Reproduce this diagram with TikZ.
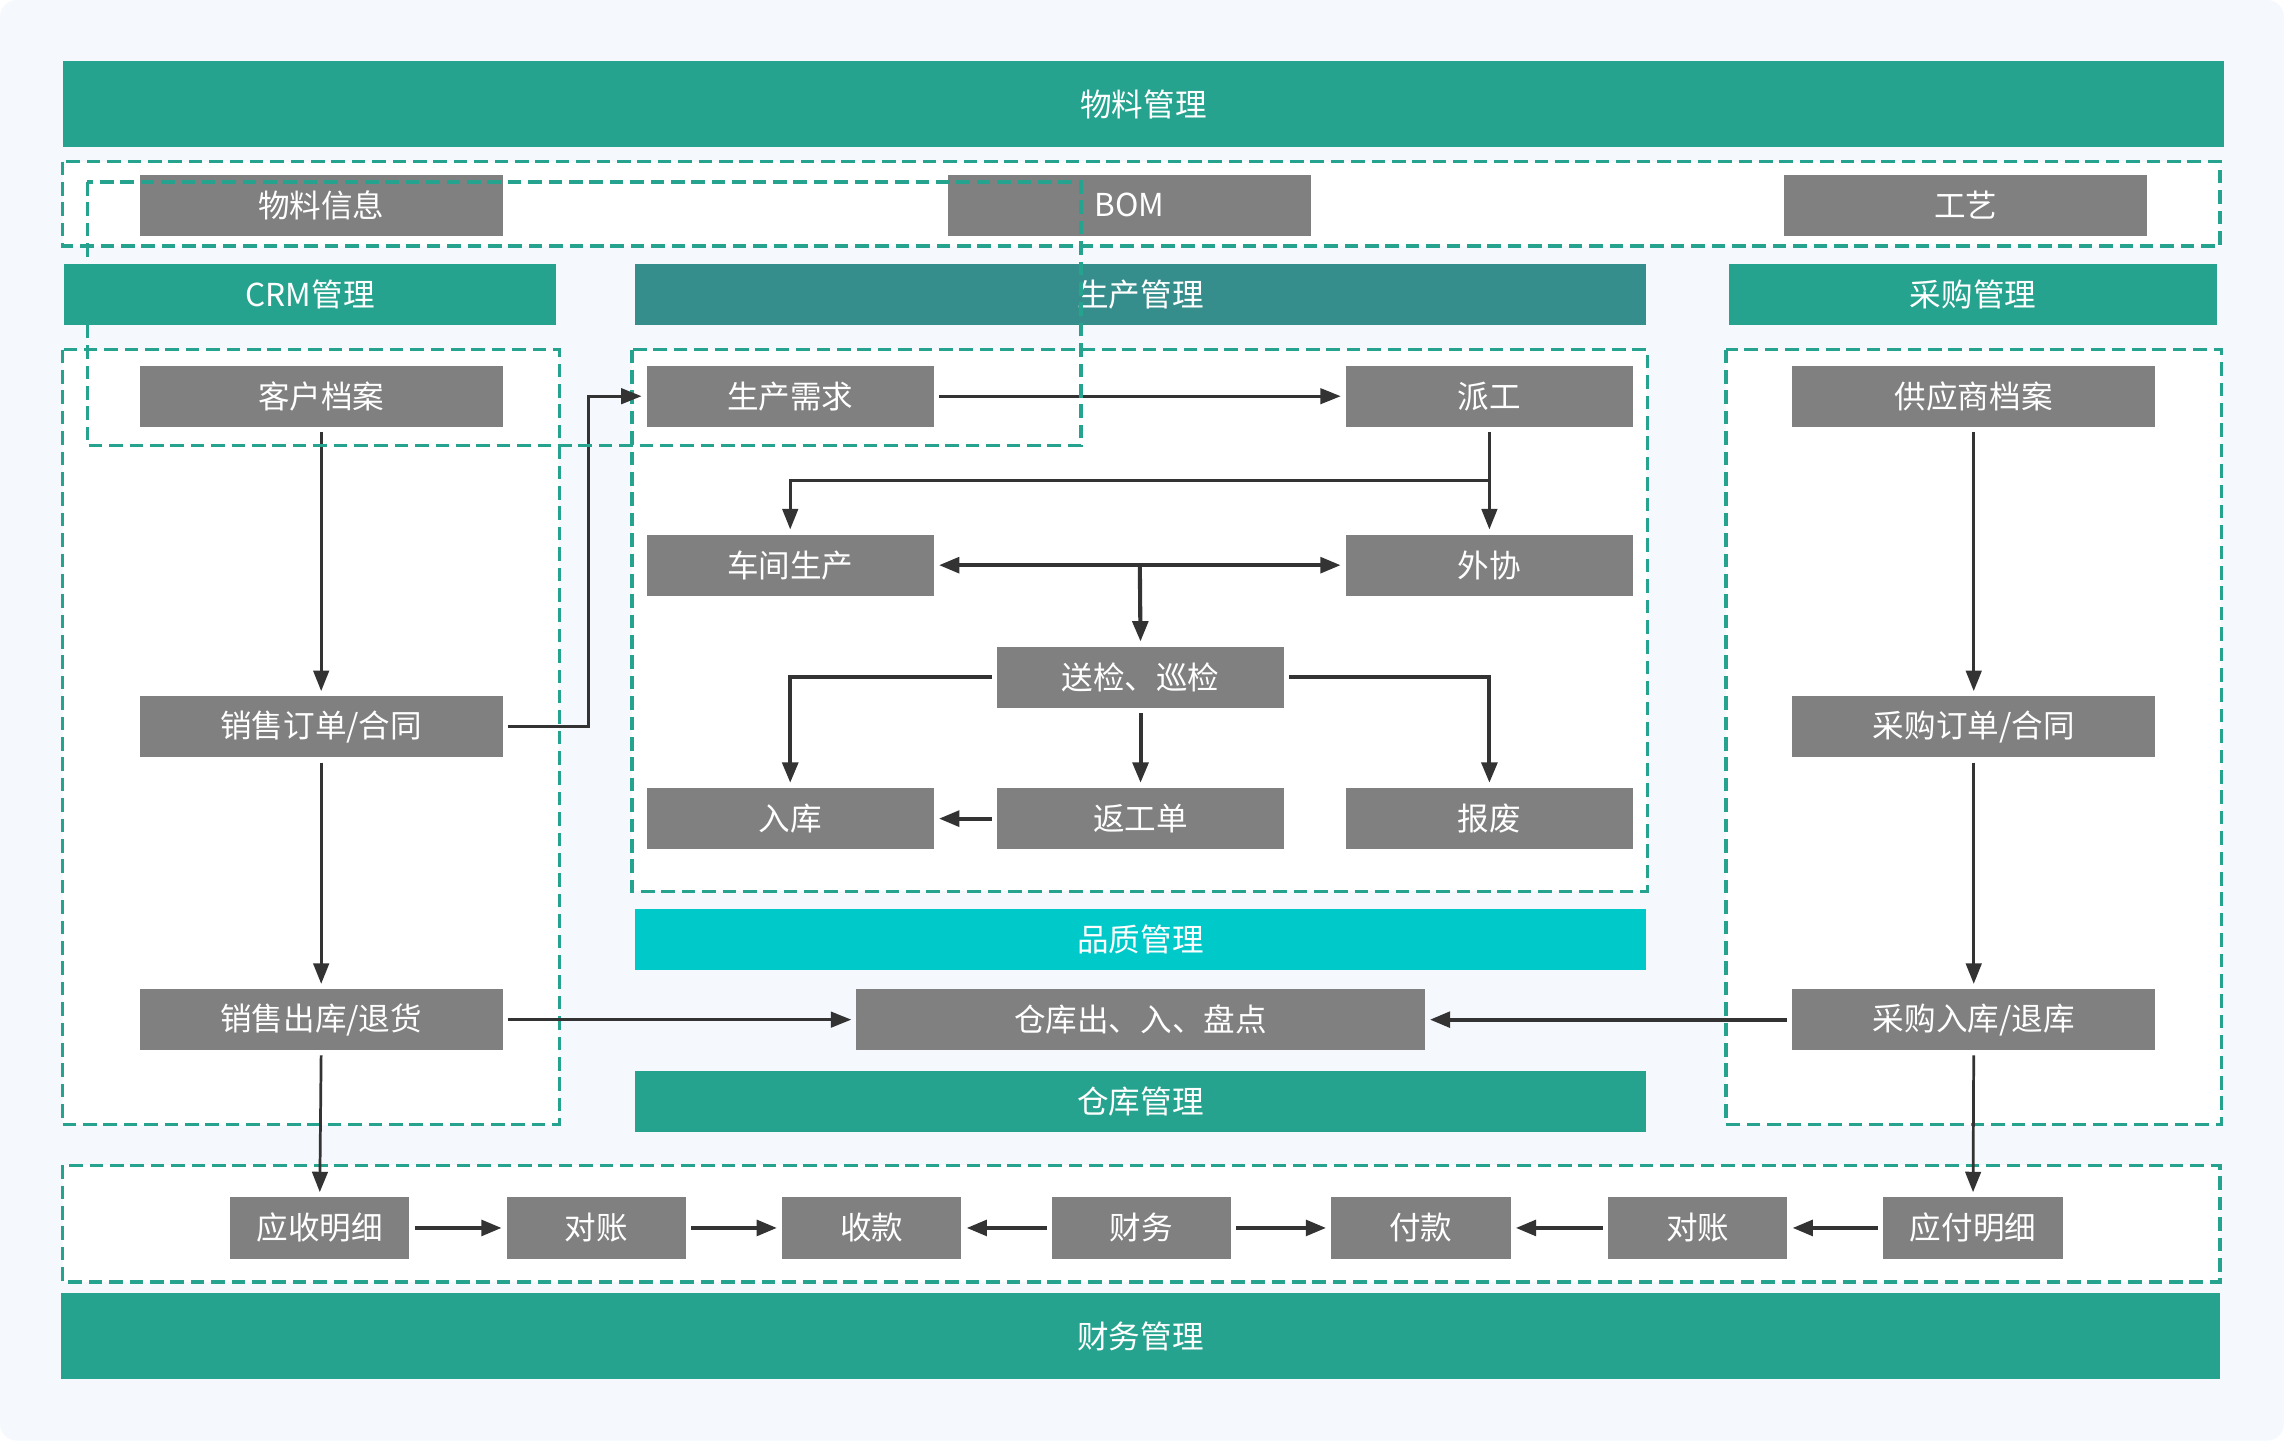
\documentclass[tikz,border=0pt]{standalone}
\usepackage{fontspec}
\setmainfont{Noto Sans CJK SC}
\usetikzlibrary{arrows.meta,calc}
\definecolor{teal1}{HTML}{26A38F}
\definecolor{teal2}{HTML}{368E8C}
\definecolor{cyan1}{HTML}{00C9C9}
\definecolor{gbox}{HTML}{808080}
\definecolor{arrc}{HTML}{333333}
\definecolor{bgc}{HTML}{F5F9FD}
\tikzset{
  base/.style={inner sep=0pt, text=white, font=\fontsize{18.5}{20}\selectfont, anchor=center},
  bar/.style={base, fill=teal1, minimum height=1.26cm},
  bigbar/.style={base, fill=teal1, minimum height=1.77cm},
  gnode/.style={base, fill=gbox, minimum height=1.26cm},
  wbox/.style={gnode, minimum width=7.47cm},
  mbox/.style={gnode, minimum width=5.91cm},
  sbox/.style={gnode, minimum width=3.69cm},
  dbox/.style={draw=teal1, line width=2pt, dash pattern=on 0.28cm off 0.14cm},
  tip/.style={Triangle[length=0.42cm,width=0.32cm]},
  arr/.style={draw=arrc, line width=1.6pt, -{Triangle[length=0.42cm,width=0.32cm]}, shorten >=0.1cm, shorten <=0.1cm},
  arrt/.style={arr, line width=2.4pt},
}
\begin{document}
\begin{tikzpicture}[x=0.03cm, y=-0.03cm]
\useasboundingbox (0,0) rectangle (1568,989);
\fill[white] (0,0) rectangle (1568,989);
\fill[bgc, rounded corners=0.35cm] (0,0) rectangle (1568,989);

% dashed group boxes
\filldraw[dbox, fill=white] (43,111) rectangle (1524,169);
\filldraw[dbox, fill=white] (43,240) rectangle (384,772);
\filldraw[dbox, fill=white] (434,240) rectangle (1131,612);
\filldraw[dbox, fill=white] (1185,240) rectangle (1525,772);
\filldraw[dbox, fill=white] (43,800) rectangle (1524,880);

% bars
\node[bigbar, minimum width=44.52cm] (wlgl) at (785,71.5) {物料管理};
\node[bar, minimum width=10.14cm] (crm) at (213,202) {CRM管理};
\node[bar, fill=teal2, minimum width=20.82cm] (scgl) at (783,202) {生产管理};
\node[bar, minimum width=10.05cm] (cggl) at (1354.5,202) {采购管理};
\node[bar, fill=cyan1, minimum width=20.82cm] (pzgl) at (783,645) {品质管理};
\node[bar, minimum width=20.82cm] (ckgl) at (783,756) {仓库管理};
\node[bigbar, minimum width=44.46cm] (cwgl) at (783,917.5) {财务管理};

% material row
\node[wbox] (wlxx) at (220.5,141) {物料信息};
\node[wbox] (bom) at (775.5,141) {BOM};
\node[wbox] (gy) at (1349.5,141) {工艺};

% CRM
\node[wbox] (khda) at (220.5,272) {客户档案};
\node[wbox] (xsdd) at (220.5,499) {销售订单/合同};
\node[wbox] (xsck) at (220.5,700) {销售出库/退货};

% production
\node[mbox] (scxq) at (542.5,272) {生产需求};
\node[mbox] (pg) at (1022.5,272) {派工};
\node[mbox] (cjsc) at (542.5,388) {车间生产};
\node[mbox] (wx) at (1022.5,388) {外协};
\node[mbox] (sj) at (783,465) {送检、巡检};
\node[mbox] (rk) at (542.5,562) {入库};
\node[mbox] (fgd) at (783,562) {返工单};
\node[mbox] (bf) at (1022.5,562) {报废};

% warehouse
\node[gnode, minimum width=11.7cm] (ck) at (783,700) {仓库出、入、盘点};

% purchase
\node[wbox] (gysda) at (1355,272) {供应商档案};
\node[wbox] (cgdd) at (1355,499) {采购订单/合同};
\node[wbox] (cgrk) at (1355,700) {采购入库/退库};

% finance row
\node[sbox] (ysmx) at (219.5,843) {应收明细};
\node[sbox] (dz1) at (409.5,843) {对账};
\node[sbox] (sk) at (598.5,843) {收款};
\node[sbox] (cw) at (783.5,843) {财务};
\node[sbox] (fk) at (975.5,843) {付款};
\node[sbox] (dz2) at (1165.5,843) {对账};
\node[sbox] (yfmx) at (1354.5,843) {应付明细};

% arrows CRM
\draw[arr] (khda.south) -- (xsdd.north);
\draw[arr] (xsdd.south) -- (xsck.north);
\draw[arr] (xsck.south) -- (ysmx.north);
\draw[arr] (xsdd.east) -- ++(59,0) |- (scxq.west);
\draw[arr] (xsck.east) -- (ck.west);

% arrows production
\draw[arr] (scxq.east) -- (pg.west);
\draw[arr] (pg.south) -- (wx.north);
\coordinate (br1) at (1022.5,330);
\draw[arr, shorten <=0pt] (br1) -| (cjsc.north);
\draw[arrt, {Triangle[length=0.42cm,width=0.32cm]}-{Triangle[length=0.42cm,width=0.32cm]}] (cjsc.east) -- (wx.west);
\coordinate (mid1) at ($(cjsc.east)!0.5!(wx.west)$);
\draw[arrt, shorten <=0pt] (mid1) -- (sj.north);
\draw[arrt] (sj.west) -| (rk.north);
\draw[arrt] (sj.east) -| (bf.north);
\draw[arrt] (sj.south) -- (fgd.north);
\draw[arrt] (fgd.west) -- (rk.east);

% arrows purchase
\draw[arr] (gysda.south) -- (cgdd.north);
\draw[arr] (cgdd.south) -- (cgrk.north);
\draw[arr] (cgrk.south) -- (yfmx.north);
\draw[arrt] (cgrk.west) -- (ck.east);

% arrows finance
\draw[arrt] (ysmx.east) -- (dz1.west);
\draw[arrt] (dz1.east) -- (sk.west);
\draw[arrt] (cw.west) -- (sk.east);
\draw[arrt] (cw.east) -- (fk.west);
\draw[arrt] (dz2.west) -- (fk.east);
\draw[arrt] (yfmx.west) -- (dz2.east);

% overlapping dashed box on top
\draw[dbox] (60,125) rectangle (742,306);
\end{tikzpicture}
\end{document}
